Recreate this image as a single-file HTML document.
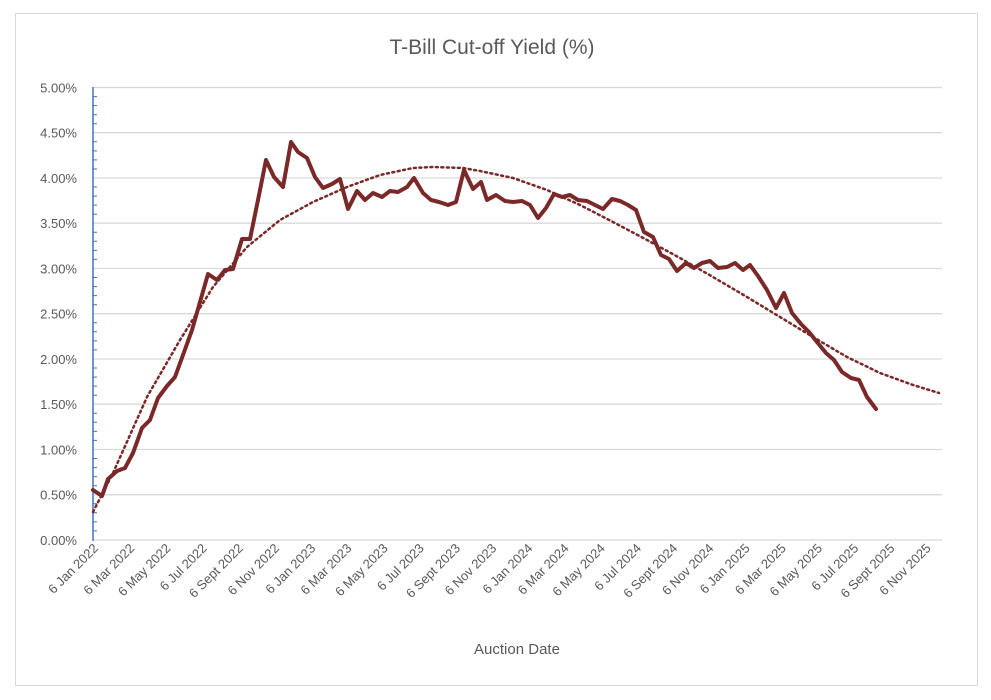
<!DOCTYPE html>
<html><head><meta charset="utf-8"><style>
body{margin:0;background:#fff;}
svg{display:block;font-family:"Liberation Sans",sans-serif;}
</style></head><body>
<svg width="991" height="700" viewBox="0 0 991 700">
<rect x="0" y="0" width="991" height="700" fill="#fff"/>
<rect x="15.5" y="13.5" width="962" height="672" fill="#fff" stroke="#d9d9d9"/>
<text x="492" y="54" font-size="21" fill="#595959" text-anchor="middle">T-Bill Cut-off Yield (%)</text>
<g stroke="#d9d9d9" stroke-width="1.3">
<line x1="93" x2="942" y1="540" y2="540"/><line x1="93" x2="942" y1="494.7" y2="494.7"/><line x1="93" x2="942" y1="449.5" y2="449.5"/><line x1="93" x2="942" y1="404.2" y2="404.2"/><line x1="93" x2="942" y1="359" y2="359"/><line x1="93" x2="942" y1="313.7" y2="313.7"/><line x1="93" x2="942" y1="268.5" y2="268.5"/><line x1="93" x2="942" y1="223.2" y2="223.2"/><line x1="93" x2="942" y1="178" y2="178"/><line x1="93" x2="942" y1="132.7" y2="132.7"/><line x1="93" x2="942" y1="87.5" y2="87.5"/>
</g>
<g font-size="13" fill="#595959" text-anchor="end">
<text x="77" y="545">0.00%</text><text x="77" y="499.7">0.50%</text><text x="77" y="454.5">1.00%</text><text x="77" y="409.2">1.50%</text><text x="77" y="364">2.00%</text><text x="77" y="318.7">2.50%</text><text x="77" y="273.5">3.00%</text><text x="77" y="228.2">3.50%</text><text x="77" y="183">4.00%</text><text x="77" y="137.7">4.50%</text><text x="77" y="92.5">5.00%</text>
</g>
<line x1="93" x2="93" y1="87" y2="541" stroke="#4472c4" stroke-width="1.5"/>
<path id="mt" stroke="#4472c4" stroke-width="1" d="M93 96.6h4M93 105.6h4M93 114.7h4M93 123.7h4M93 141.8h4M93 150.9h4M93 159.9h4M93 169h4M93 187h4M93 196.1h4M93 205.1h4M93 214.2h4M93 232.3h4M93 241.3h4M93 250.4h4M93 259.4h4M93 277.5h4M93 286.6h4M93 295.6h4M93 304.7h4M93 322.8h4M93 331.8h4M93 340.9h4M93 349.9h4M93 368h4M93 377.1h4M93 386.1h4M93 395.2h4M93 413.3h4M93 422.3h4M93 431.4h4M93 440.4h4M93 458.5h4M93 467.6h4M93 476.6h4M93 485.7h4M93 503.8h4M93 512.8h4M93 521.9h4M93 530.9h4"/>
<path fill="none" stroke="#7b2828" stroke-width="2.5" stroke-dasharray="2,3.5" stroke-linecap="round" d="M93,512 L113,473 L147,397 L180,340 L213,287 L247,247 L280,220 L313,202 L347,187 L380,175 L413,168 L433,167 L463,168 L480,171 L513,178 L547,190 L580,205 L613,222 L647,240 L680,258 L713,277 L747,297 L780,317 L813,337 L847,357 L880,373 L913,385 L939,393"/>
<path fill="none" stroke="#7b2828" stroke-width="4" stroke-linejoin="round" stroke-linecap="round" d="M93,490 L102,496 L108,479 L117,471 L125,468 L133,453 L142,428 L150,420 L158,398 L167,386 L175,377 L183,355 L192,330 L200,302 L208,274 L217,280 L225,270 L233,269 L242,239 L250,239 L258,200 L266,160 L274,177 L283,187 L291,142 L298,152 L307,158 L315,177 L323,188 L332,184 L340,179 L348,209 L357,191 L365,200 L373,193 L382,197 L390,191 L398,192 L407,187 L414,178 L423,193 L431,200 L439,202 L448,205 L456,202 L464,170 L473,189 L481,182 L487,200 L496,195 L505,201 L513,202 L522,201 L530,205 L538,218 L546,208 L554,194 L562,197 L570,195 L578,200 L587,201 L595,205 L603,209 L612,199 L620,201 L628,205 L636,210 L644,232 L653,237 L661,255 L669,259 L677,271 L686,263 L694,268 L702,263 L710,261 L718,268 L727,267 L735,263 L743,270 L750,265 L758,276 L767,290 L776,308 L784,293 L792,313 L801,324 L809,332 L817,342 L826,353 L834,360 L842,372 L851,378 L859,380 L867,397 L876,409"/>
<g font-size="13" fill="#595959" text-anchor="end">
<text transform="translate(99,549) rotate(-45)">6 Jan 2022</text>
<text transform="translate(135.2,549) rotate(-45)">6 Mar 2022</text>
<text transform="translate(171.4,549) rotate(-45)">6 May 2022</text>
<text transform="translate(207.6,549) rotate(-45)">6 Jul 2022</text>
<text transform="translate(243.8,549) rotate(-45)">6 Sept 2022</text>
<text transform="translate(280,549) rotate(-45)">6 Nov 2022</text>
<text transform="translate(316.2,549) rotate(-45)">6 Jan 2023</text>
<text transform="translate(352.4,549) rotate(-45)">6 Mar 2023</text>
<text transform="translate(388.6,549) rotate(-45)">6 May 2023</text>
<text transform="translate(424.8,549) rotate(-45)">6 Jul 2023</text>
<text transform="translate(461,549) rotate(-45)">6 Sept 2023</text>
<text transform="translate(497.2,549) rotate(-45)">6 Nov 2023</text>
<text transform="translate(533.4,549) rotate(-45)">6 Jan 2024</text>
<text transform="translate(569.6,549) rotate(-45)">6 Mar 2024</text>
<text transform="translate(605.8,549) rotate(-45)">6 May 2024</text>
<text transform="translate(642,549) rotate(-45)">6 Jul 2024</text>
<text transform="translate(678.2,549) rotate(-45)">6 Sept 2024</text>
<text transform="translate(714.4,549) rotate(-45)">6 Nov 2024</text>
<text transform="translate(750.6,549) rotate(-45)">6 Jan 2025</text>
<text transform="translate(786.8,549) rotate(-45)">6 Mar 2025</text>
<text transform="translate(823,549) rotate(-45)">6 May 2025</text>
<text transform="translate(859.2,549) rotate(-45)">6 Jul 2025</text>
<text transform="translate(895.4,549) rotate(-45)">6 Sept 2025</text>
<text transform="translate(931.6,549) rotate(-45)">6 Nov 2025</text>
</g>
<text x="517" y="654" font-size="15" fill="#595959" text-anchor="middle">Auction Date</text>
</svg>
</body></html>
